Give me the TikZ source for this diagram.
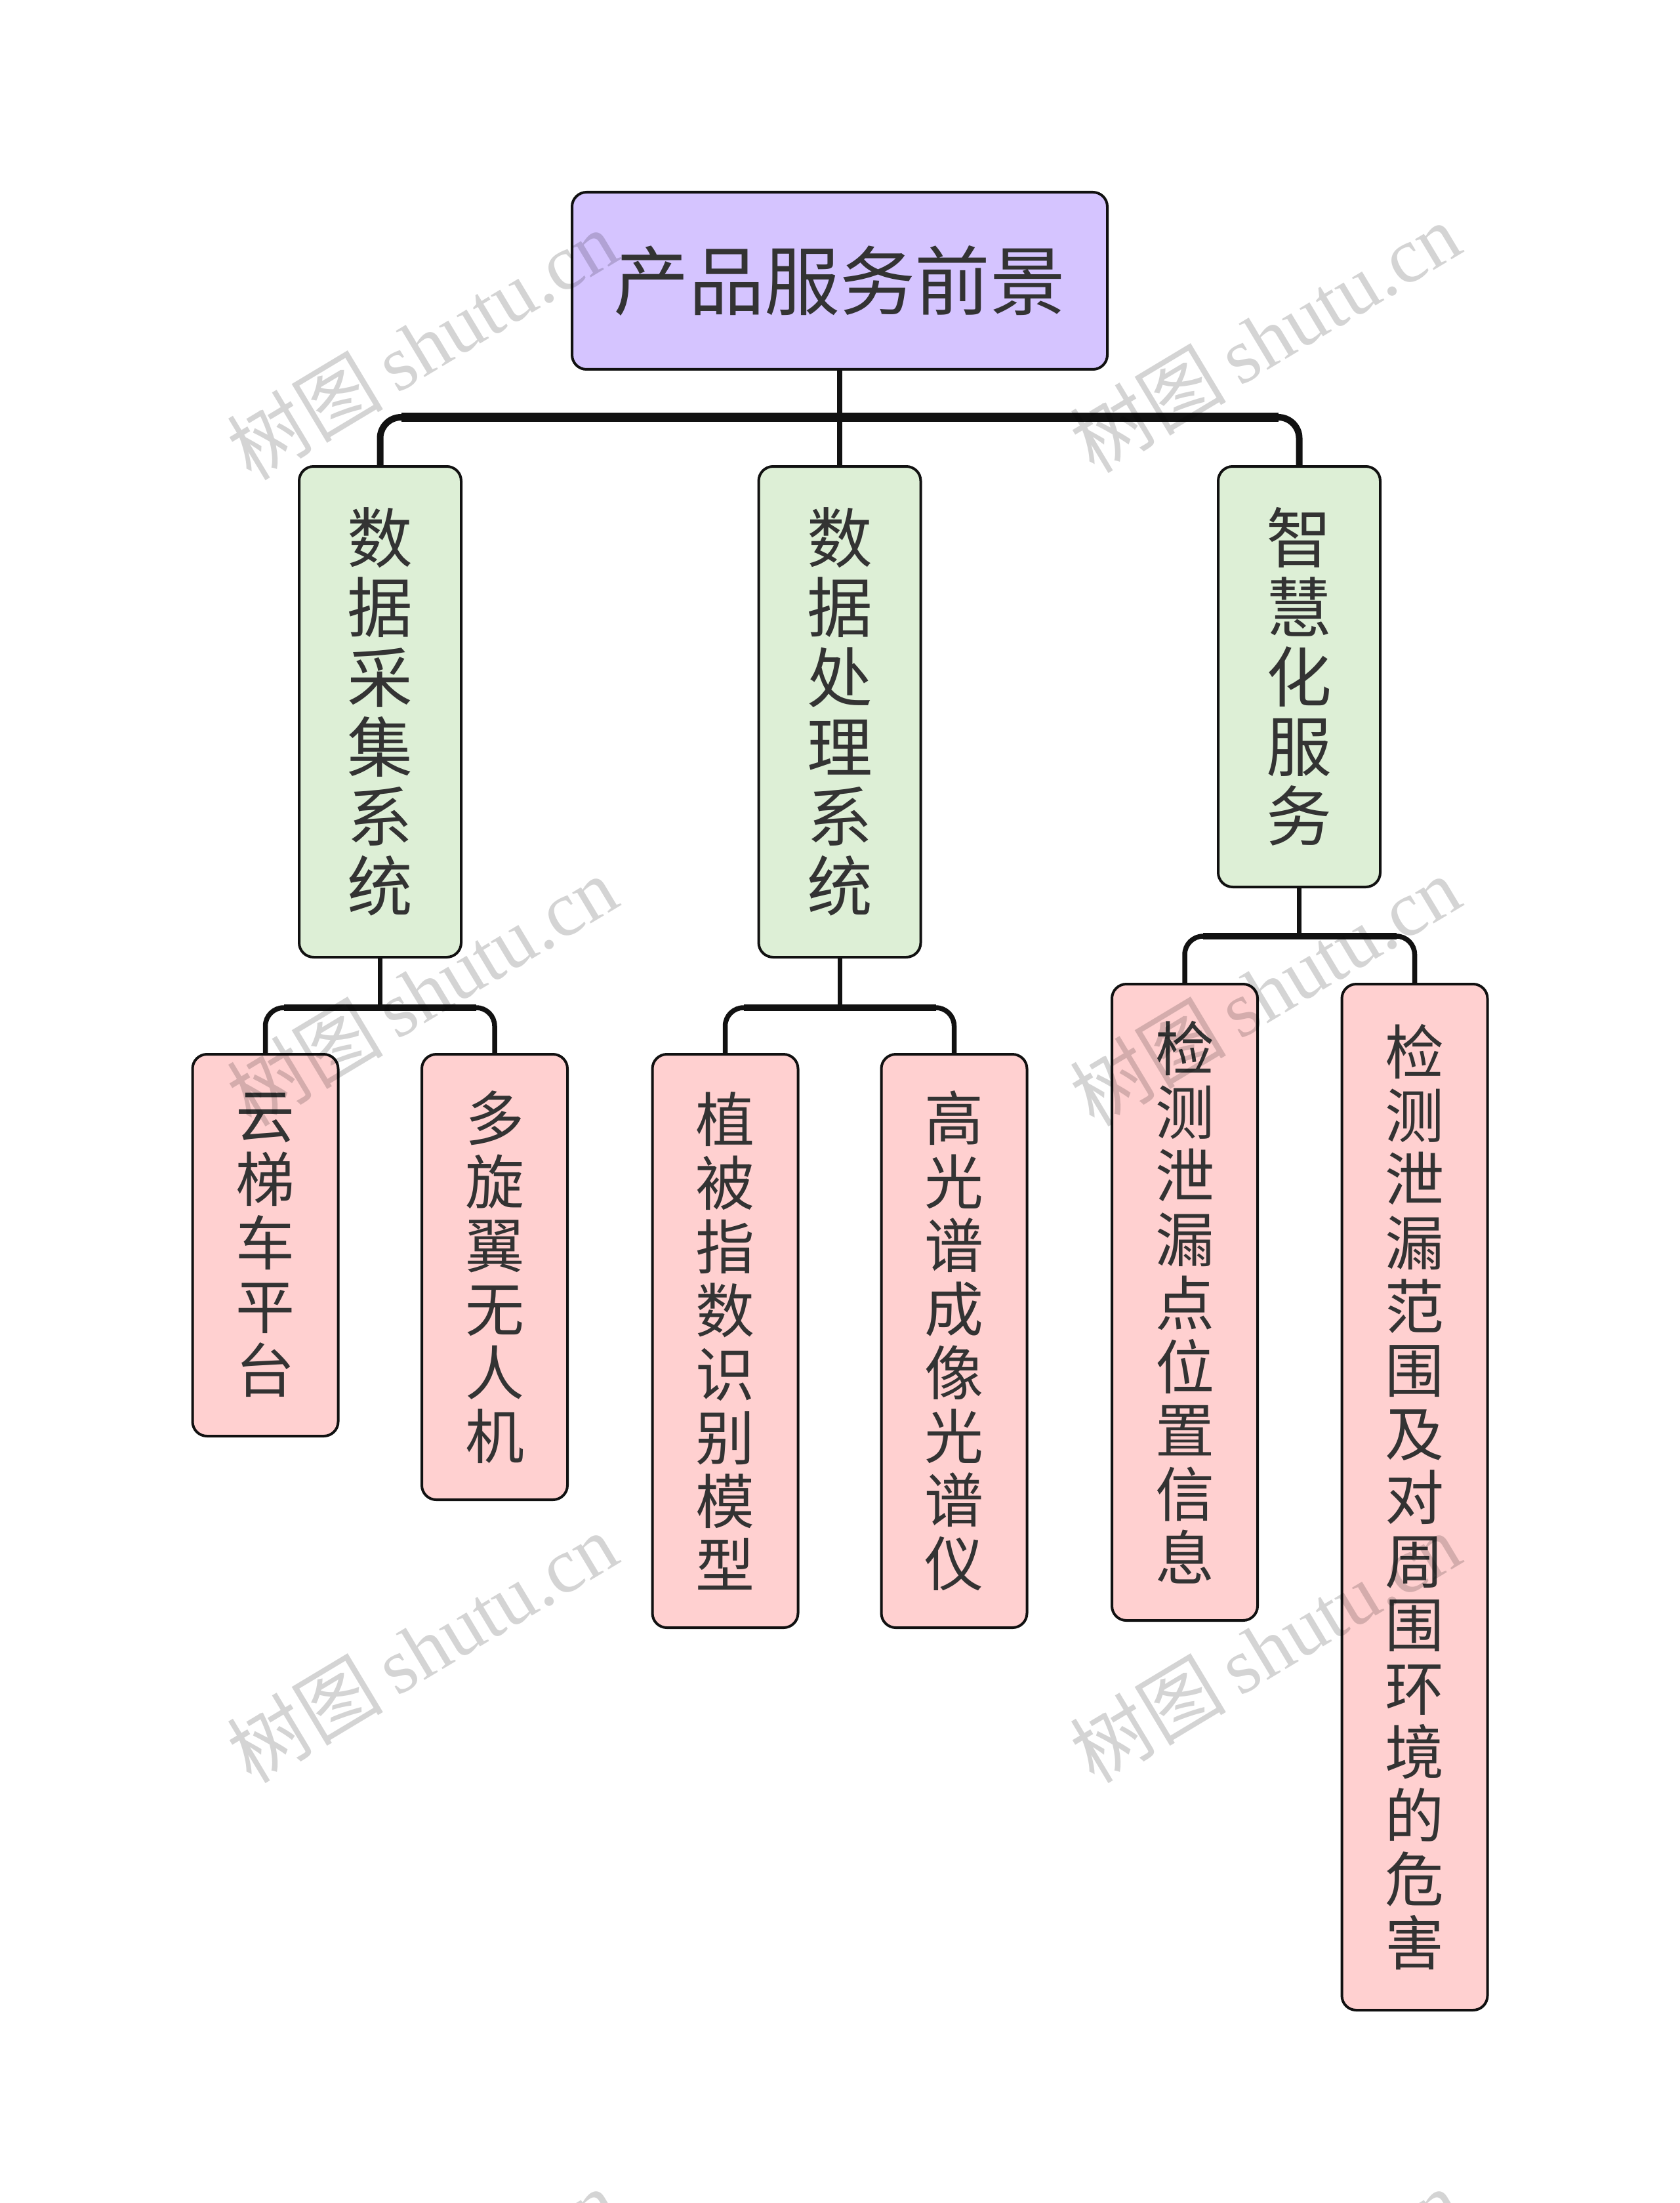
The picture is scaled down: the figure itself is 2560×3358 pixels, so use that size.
\documentclass[tikz,border=0pt]{standalone}
\usepackage{fontspec}
\newfontfamily\cjk{Noto Sans CJK SC}
\newfontfamily\wmlat{Liberation Serif}
\definecolor{rootc}{RGB}{213,196,255}
\definecolor{greenc}{RGB}{221,239,214}
\definecolor{pinkc}{RGB}{255,208,208}
\definecolor{txt}{RGB}{51,51,51}
\definecolor{edge}{RGB}{17,17,17}
\tikzset{
  box/.style={draw=edge, line width=0.4mm, rounded corners=2.2mm, text=txt, inner sep=0pt, align=center},
  rootbox/.style={box, fill=rootc, minimum width=81.6mm, minimum height=27mm, font=\cjk\fontsize{32.7pt}{36pt}\selectfont},
  onebox/.style={box, fill=greenc, minimum width=24.7mm, font=\cjk\fontsize{28.4pt}{30.2pt}\selectfont},
  twobox/.style={box, fill=pinkc, minimum width=22.2mm, font=\cjk\fontsize{25.6pt}{27.6pt}\selectfont},
  linkone/.style={draw=edge, line width=1.0mm, rounded corners=3.2mm},
  linkbar/.style={draw=edge, line width=1.4mm},
  linktwo/.style={draw=edge, line width=0.75mm, rounded corners=2.8mm},
  linktwobar/.style={draw=edge, line width=0.95mm},
  wm/.style={rotate=31, text=black, opacity=0.17, inner sep=0pt, font=\cjk\fontsize{34pt}{36pt}\selectfont}
}
\begin{document}
\begin{tikzpicture}[x=0.1mm,y=-0.1mm]
\useasboundingbox (0,0) rectangle (2560,3358);
\fill[white] (0,0) rectangle (2560,3358);

% nodes
\node[rootbox] (root) at (1280,428) {产品服务前景};
\node[onebox, minimum height=74.8mm] (a) at (579.5,1085) {数\\据\\采\\集\\系\\统};
\node[onebox, minimum height=74.8mm] (b) at (1280,1085) {数\\据\\处\\理\\系\\统};
\node[onebox, minimum height=64.1mm] (c) at (1980.5,1031.5) {智\\慧\\化\\服\\务};

\node[twobox, minimum height=58.2mm] (a1) at (404.5,1898) {云\\梯\\车\\平\\台};
\node[twobox, minimum height=67.9mm] (a2) at (754,1946.5) {多\\旋\\翼\\无\\人\\机};
\node[twobox, minimum height=87.4mm] (b1) at (1105.5,2044) {植\\被\\指\\数\\识\\别\\模\\型};
\node[twobox, minimum height=87.4mm] (b2) at (1454.5,2044) {高\\光\\谱\\成\\像\\光\\谱\\仪};
\node[twobox, minimum height=97.0mm] (c1) at (1806,1985) {检\\测\\泄\\漏\\点\\位\\置\\信\\息};
\node[twobox, minimum height=156.4mm] (c2) at (2156.5,2282) {检\\测\\泄\\漏\\范\\围\\及\\对\\周\\围\\环\\境\\的\\危\\害};

% level 1 connectors
\coordinate (j0) at (1280,636);
\draw[draw=edge, line width=0.8mm] (root.south) -- (b.north);
\draw[linkone] (a.north) -- (a.north |- j0) -- (c.north |- j0) -- (c.north);
\draw[linkbar] ([xshift=3.2mm]a.north |- j0) -- ([xshift=-3.2mm]c.north |- j0);

% level 2 connectors
\coordinate (ja) at (579.5,1536);
\draw[draw=edge, line width=0.7mm] (a.south) -- (ja);
\draw[linktwo] (a1.north) -- (a1.north |- ja) -- (a2.north |- ja) -- (a2.north);
\draw[linktwobar] ([xshift=2.8mm]a1.north |- ja) -- ([xshift=-2.8mm]a2.north |- ja);

\coordinate (jb) at (1280,1536);
\draw[draw=edge, line width=0.7mm] (b.south) -- (jb);
\draw[linktwo] (b1.north) -- (b1.north |- jb) -- (b2.north |- jb) -- (b2.north);
\draw[linktwobar] ([xshift=2.8mm]b1.north |- jb) -- ([xshift=-2.8mm]b2.north |- jb);

\coordinate (jc) at (1980.5,1427);
\draw[draw=edge, line width=0.7mm] (c.south) -- (jc);
\draw[linktwo] (c1.north) -- (c1.north |- jc) -- (c2.north |- jc) -- (c2.north);
\draw[linktwobar] ([xshift=2.8mm]c1.north |- jc) -- ([xshift=-2.8mm]c2.north |- jc);

% watermarks
\begin{scope}
\clip (0,0) rectangle (2560,3358);
\node[wm] (w1) at (643,525) {树图\,{\wmlat shutu.cn}};
\node[wm] (w2) at (1928,514) {树图\,{\wmlat shutu.cn}};
\node[wm] (w3) at (643,1510) {树图\,{\wmlat shutu.cn}};
\node[wm] (w4) at (1928,1510) {树图\,{\wmlat shutu.cn}};
\node[wm] (w5) at (643,2511) {树图\,{\wmlat shutu.cn}};
\node[wm] (w6) at (1928,2511) {树图\,{\wmlat shutu.cn}};
\node[wm] (w7) at (643,3511) {树图\,{\wmlat shutu.cn}};
\node[wm] (w8) at (1928,3511) {树图\,{\wmlat shutu.cn}};
\end{scope}
\end{tikzpicture}
\end{document}
